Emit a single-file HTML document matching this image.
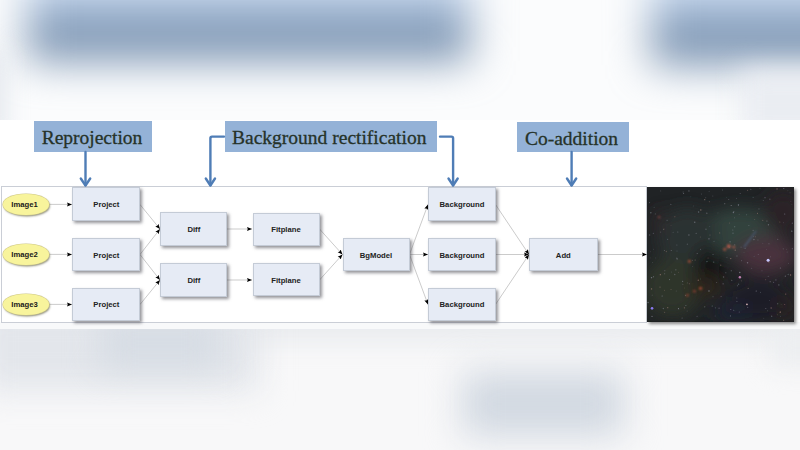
<!DOCTYPE html>
<html><head><meta charset="utf-8">
<style>
html,body{margin:0;padding:0;}
body{width:800px;height:450px;overflow:hidden;position:relative;background:#fff;font-family:"Liberation Sans",sans-serif;}
.blur{position:absolute;overflow:hidden;}
.blob{position:absolute;}
.lbl{position:absolute;background:#94b2d7;color:#263228;font-family:"Liberation Serif",serif;font-size:19.5px;line-height:34px;text-align:center;white-space:nowrap;-webkit-text-stroke:0.3px #263228;}
.node{position:absolute;background:#e6ebf5;border:1px solid #c4cbd6;box-shadow:2px 2px 3px rgba(60,60,70,0.55);font-size:7.7px;padding-top:0.5px;font-weight:bold;color:#222;text-align:center;box-sizing:border-box;}
.ell{position:absolute;background:#f8f49c;border-radius:50%;box-shadow:0 0 0 0.6px #cfc98a,1px 1.5px 2px rgba(90,90,60,0.65);font-size:7.7px;text-indent:-2.5px;padding-top:0.5px;font-weight:bold;color:#1a1a1a;text-align:center;}
#frame{position:absolute;left:1px;top:186px;width:646px;height:136.5px;box-sizing:border-box;border:1.5px solid #caced6;background:#fff;}
</style></head>
<body>
<!-- top blurred area -->
<div class="blur" style="left:0;top:0;width:800px;height:120px;background:#fbfcfd;">
  <div class="blob" style="left:27px;top:-45px;width:443px;height:106px;background:linear-gradient(#e0ecfa 0%,#c4d6ee 38%,#8098b4 68%,#7891b0 100%);filter:blur(21px);"></div>
  <div class="blob" style="left:651px;top:-45px;width:220px;height:110px;background:linear-gradient(#e0ecfa 0%,#c4d6ee 38%,#8098b4 68%,#7891b0 100%);filter:blur(21px);"></div>
  <div class="blob" style="left:-40px;top:50px;width:45px;height:90px;background:#e2e6ec;filter:blur(12px);"></div>
  <div class="blob" style="left:740px;top:70px;width:100px;height:70px;background:#eaedf2;filter:blur(14px);"></div>
</div>
<!-- bottom blurred area -->
<div class="blur" style="left:0;top:328px;width:800px;height:122px;background:#f8f8f9;">
  <div class="blob" style="left:-40px;top:-30px;width:880px;height:45px;background:#eaecef;filter:blur(12px);"></div>
  <div class="blob" style="left:-20px;top:-25px;width:280px;height:88px;background:#e3e6eb;filter:blur(16px);"></div>
  <div class="blob" style="left:100px;top:-10px;width:120px;height:50px;background:#d6dce4;filter:blur(16px);"></div>
  <div class="blob" style="left:462px;top:44px;width:162px;height:64px;background:#d1d8e1;filter:blur(18px);"></div>
  <div class="blob" style="left:770px;top:0px;width:60px;height:40px;background:#eceef0;filter:blur(12px);"></div>
</div>
<!-- slide strip -->
<div style="position:absolute;left:0;top:120px;width:800px;height:208px;background:#fff;"></div>
<div style="position:absolute;left:0;top:322px;width:800px;height:6.5px;background:#f8f9fa;"></div>

<!-- labels -->
<div class="lbl" style="left:34px;top:121px;width:118px;height:31px;text-indent:-2px;">Reprojection</div>
<div class="lbl" style="left:224.5px;top:121px;width:212.5px;height:31px;text-indent:-3px;">Background rectification</div>
<div class="lbl" style="left:516.5px;top:121.5px;width:112px;height:30.5px;text-indent:-2px;">Co-addition</div>

<div id="frame"></div>

<!-- star image -->
<div style="position:absolute;left:647px;top:187.3px;width:147.4px;height:134.4px;background:#1a1c1e;box-shadow:2px 2px 3px rgba(0,0,0,0.45);overflow:hidden;">
<svg width="147.4" height="134.4" viewBox="0 0 146 134" preserveAspectRatio="none" style="position:absolute;left:0;top:0;">
<defs>
<filter id="bl4" x="-50%" y="-50%" width="200%" height="200%"><feGaussianBlur stdDeviation="8"/></filter>
<filter id="bl2" x="-50%" y="-50%" width="200%" height="200%"><feGaussianBlur stdDeviation="1.2"/></filter>
<filter id="bl05" x="-50%" y="-50%" width="200%" height="200%"><feGaussianBlur stdDeviation="0.4"/></filter>
</defs>
<rect width="146" height="134" fill="#202325"/>
<g filter="url(#bl4)">
<ellipse cx="92" cy="45" rx="40" ry="24" fill="#33423d"/>
<ellipse cx="40" cy="50" rx="30" ry="30" fill="#2b3230"/>
<ellipse cx="118" cy="68" rx="30" ry="18" fill="#4a323c"/>
<ellipse cx="25" cy="100" rx="30" ry="30" fill="#2e362c"/>
<ellipse cx="62" cy="80" rx="15" ry="20" fill="#121314"/>
<ellipse cx="110" cy="112" rx="32" ry="22" fill="#1f1e28"/>
<ellipse cx="85" cy="125" rx="20" ry="10" fill="#1a2230"/>
<ellipse cx="135" cy="25" rx="20" ry="22" fill="#2a2428"/>
<ellipse cx="12" cy="35" rx="5" ry="14" fill="#33262a"/>
<ellipse cx="58" cy="100" rx="18" ry="10" fill="#2e261f"/>
<ellipse cx="138" cy="120" rx="10" ry="14" fill="#2a2422"/>
</g>
<g opacity="0.75" filter="url(#bl05)"><circle cx="66.1" cy="74.9" r="0.60" fill="#a0a0b0" opacity="0.65"/><circle cx="85.6" cy="25.4" r="0.70" fill="#a0a0b0" opacity="0.71"/><circle cx="115.2" cy="13.4" r="0.55" fill="#9a9aa8" opacity="0.45"/><circle cx="117.6" cy="92.5" r="0.45" fill="#b08a80" opacity="0.89"/><circle cx="139.9" cy="87.3" r="0.70" fill="#8a9aa0" opacity="0.48"/><circle cx="3.2" cy="70.7" r="0.45" fill="#8c8c9a" opacity="0.50"/><circle cx="35.8" cy="5.0" r="0.60" fill="#7d8490" opacity="0.62"/><circle cx="122.3" cy="69.5" r="0.55" fill="#a0a0b0" opacity="0.40"/><circle cx="13.2" cy="87.4" r="0.60" fill="#b08a80" opacity="0.90"/><circle cx="122.0" cy="94.4" r="0.55" fill="#9a9aa8" opacity="0.66"/><circle cx="5.3" cy="75.3" r="0.45" fill="#a0a0b0" opacity="0.45"/><circle cx="42.9" cy="9.8" r="0.45" fill="#8a9aa0" opacity="0.40"/><circle cx="31.2" cy="121.2" r="0.60" fill="#a0a0b0" opacity="0.89"/><circle cx="58.2" cy="10.6" r="0.50" fill="#8a9aa0" opacity="0.53"/><circle cx="13.5" cy="44.9" r="0.60" fill="#8c8c9a" opacity="0.47"/><circle cx="102.8" cy="2.4" r="0.60" fill="#a0a0b0" opacity="0.49"/><circle cx="81.5" cy="60.1" r="0.50" fill="#8a9aa0" opacity="0.78"/><circle cx="61.4" cy="51.7" r="0.60" fill="#a0a0b0" opacity="0.90"/><circle cx="1.1" cy="115.1" r="0.70" fill="#7d8490" opacity="0.90"/><circle cx="3.8" cy="25.7" r="0.70" fill="#8a9aa0" opacity="0.69"/><circle cx="7.1" cy="20.3" r="0.60" fill="#7d8490" opacity="0.40"/><circle cx="88.9" cy="110.6" r="0.60" fill="#8c8c9a" opacity="0.44"/><circle cx="31.1" cy="85.0" r="0.45" fill="#b08a80" opacity="0.58"/><circle cx="90.6" cy="17.8" r="0.70" fill="#a0a0b0" opacity="0.82"/><circle cx="20.5" cy="52.0" r="0.50" fill="#7d8490" opacity="0.85"/><circle cx="118.8" cy="33.9" r="0.50" fill="#9a9aa8" opacity="0.77"/><circle cx="136.4" cy="26.9" r="0.60" fill="#a0a0b0" opacity="0.70"/><circle cx="61.7" cy="14.7" r="0.45" fill="#b08a80" opacity="0.88"/><circle cx="35.3" cy="94.0" r="0.55" fill="#a0a0b0" opacity="0.81"/><circle cx="86.9" cy="39.7" r="0.50" fill="#8a9aa0" opacity="0.89"/><circle cx="19.2" cy="64.3" r="0.70" fill="#b08a80" opacity="0.44"/><circle cx="31.6" cy="121.8" r="0.45" fill="#8c8c9a" opacity="0.53"/><circle cx="65.2" cy="9.0" r="0.50" fill="#7d8490" opacity="0.58"/><circle cx="83.4" cy="18.4" r="0.55" fill="#9a9aa8" opacity="0.85"/><circle cx="142.2" cy="87.7" r="0.70" fill="#b08a80" opacity="0.87"/><circle cx="85.9" cy="122.9" r="0.60" fill="#7d8490" opacity="0.75"/><circle cx="139.6" cy="3.8" r="0.45" fill="#a0a0b0" opacity="0.43"/><circle cx="45.8" cy="19.0" r="0.45" fill="#8c8c9a" opacity="0.63"/><circle cx="54.0" cy="6.9" r="0.50" fill="#7d8490" opacity="0.58"/><circle cx="99.7" cy="119.9" r="0.60" fill="#8c8c9a" opacity="0.83"/><circle cx="83.5" cy="83.5" r="0.60" fill="#a0a0b0" opacity="0.69"/><circle cx="88.7" cy="11.6" r="0.45" fill="#7d8490" opacity="0.84"/><circle cx="105.9" cy="52.3" r="0.70" fill="#a0a0b0" opacity="0.62"/><circle cx="121.7" cy="12.1" r="0.70" fill="#8c8c9a" opacity="0.56"/><circle cx="13.6" cy="3.9" r="0.45" fill="#a0a0b0" opacity="0.79"/><circle cx="96.1" cy="65.2" r="0.45" fill="#7d8490" opacity="0.55"/><circle cx="98.7" cy="27.7" r="0.50" fill="#7d8490" opacity="0.73"/><circle cx="64.6" cy="118.7" r="0.55" fill="#a0a0b0" opacity="0.73"/><circle cx="29.6" cy="57.9" r="0.50" fill="#9a9aa8" opacity="0.59"/><circle cx="85.0" cy="42.8" r="0.50" fill="#9a9aa8" opacity="0.65"/><circle cx="121.5" cy="113.0" r="0.45" fill="#7d8490" opacity="0.81"/><circle cx="17.2" cy="63.2" r="0.50" fill="#a0a0b0" opacity="0.59"/><circle cx="75.9" cy="89.7" r="0.70" fill="#a0a0b0" opacity="0.56"/><circle cx="120.3" cy="37.7" r="0.70" fill="#8c8c9a" opacity="0.74"/><circle cx="41.5" cy="47.8" r="0.70" fill="#8c8c9a" opacity="0.72"/><circle cx="59.3" cy="26.1" r="0.55" fill="#9a9aa8" opacity="0.79"/><circle cx="115.7" cy="130.9" r="0.45" fill="#a0a0b0" opacity="0.45"/><circle cx="78.1" cy="85.5" r="0.55" fill="#8c8c9a" opacity="0.74"/><circle cx="29.7" cy="63.7" r="0.50" fill="#8a9aa0" opacity="0.41"/><circle cx="69.0" cy="95.3" r="0.50" fill="#9a9aa8" opacity="0.54"/><circle cx="50.8" cy="93.0" r="0.70" fill="#b08a80" opacity="0.71"/><circle cx="109.9" cy="52.9" r="0.50" fill="#8c8c9a" opacity="0.61"/><circle cx="129.5" cy="52.2" r="0.60" fill="#a0a0b0" opacity="0.50"/><circle cx="128.8" cy="1.9" r="0.70" fill="#b08a80" opacity="0.73"/><circle cx="73.4" cy="109.2" r="0.55" fill="#a0a0b0" opacity="0.56"/><circle cx="142.5" cy="14.1" r="0.45" fill="#9a9aa8" opacity="0.52"/><circle cx="57.2" cy="12.6" r="0.55" fill="#b08a80" opacity="0.89"/><circle cx="135.2" cy="35.6" r="0.45" fill="#7d8490" opacity="0.65"/><circle cx="6.3" cy="46.2" r="0.60" fill="#7d8490" opacity="0.64"/><circle cx="5.1" cy="107.8" r="0.45" fill="#a0a0b0" opacity="0.80"/><circle cx="25.9" cy="45.2" r="0.50" fill="#a0a0b0" opacity="0.47"/><circle cx="75.4" cy="96.5" r="0.60" fill="#a0a0b0" opacity="0.69"/><circle cx="100.2" cy="101.0" r="0.60" fill="#b08a80" opacity="0.68"/><circle cx="120.7" cy="75.1" r="0.50" fill="#b08a80" opacity="0.66"/><circle cx="131.6" cy="34.9" r="0.60" fill="#b08a80" opacity="0.50"/><circle cx="123.5" cy="128.8" r="0.70" fill="#7d8490" opacity="0.69"/><circle cx="29.9" cy="71.7" r="0.70" fill="#8c8c9a" opacity="0.70"/><circle cx="5.0" cy="129.0" r="0.70" fill="#a0a0b0" opacity="0.67"/><circle cx="143.5" cy="17.1" r="0.45" fill="#8a9aa0" opacity="0.48"/><circle cx="135.0" cy="61.6" r="0.60" fill="#7d8490" opacity="0.52"/><circle cx="72.0" cy="45.8" r="0.60" fill="#b08a80" opacity="0.56"/><circle cx="28.6" cy="82.6" r="0.55" fill="#9a9aa8" opacity="0.75"/><circle cx="141.7" cy="5.7" r="0.50" fill="#9a9aa8" opacity="0.41"/><circle cx="41.9" cy="96.5" r="0.50" fill="#b08a80" opacity="0.65"/><circle cx="73.0" cy="77.9" r="0.70" fill="#b08a80" opacity="0.53"/><circle cx="29.5" cy="71.0" r="0.60" fill="#8c8c9a" opacity="0.59"/><circle cx="60.5" cy="70.9" r="0.50" fill="#b08a80" opacity="0.50"/><circle cx="91.9" cy="85.3" r="0.70" fill="#9a9aa8" opacity="0.83"/><circle cx="89.1" cy="114.1" r="0.50" fill="#8a9aa0" opacity="0.71"/><circle cx="51.1" cy="24.9" r="0.70" fill="#7d8490" opacity="0.85"/><circle cx="29.0" cy="103.7" r="0.50" fill="#8c8c9a" opacity="0.47"/><circle cx="35.5" cy="96.9" r="0.55" fill="#a0a0b0" opacity="0.45"/><circle cx="120.8" cy="56.7" r="0.50" fill="#9a9aa8" opacity="0.60"/><circle cx="99.7" cy="3.3" r="0.50" fill="#b08a80" opacity="0.74"/><circle cx="132.2" cy="128.8" r="0.45" fill="#8a9aa0" opacity="0.65"/><circle cx="110.2" cy="67.4" r="0.50" fill="#8c8c9a" opacity="0.64"/><circle cx="4.5" cy="101.6" r="0.70" fill="#b08a80" opacity="0.85"/><circle cx="70.3" cy="26.0" r="0.45" fill="#9a9aa8" opacity="0.49"/><circle cx="23.8" cy="38.4" r="0.45" fill="#b08a80" opacity="0.43"/><circle cx="138.0" cy="62.0" r="0.45" fill="#7d8490" opacity="0.60"/><circle cx="62.4" cy="47.8" r="0.50" fill="#b08a80" opacity="0.59"/><circle cx="92.3" cy="6.4" r="0.50" fill="#9a9aa8" opacity="0.60"/><circle cx="52.8" cy="49.9" r="0.50" fill="#b08a80" opacity="0.48"/><circle cx="74.8" cy="3.0" r="0.45" fill="#8a9aa0" opacity="0.84"/><circle cx="131.9" cy="125.0" r="0.70" fill="#b08a80" opacity="0.50"/><circle cx="85.2" cy="46.0" r="0.55" fill="#7d8490" opacity="0.86"/><circle cx="108.2" cy="103.7" r="0.60" fill="#9a9aa8" opacity="0.85"/><circle cx="127.7" cy="92.7" r="0.60" fill="#9a9aa8" opacity="0.60"/><circle cx="105.1" cy="10.3" r="0.55" fill="#7d8490" opacity="0.63"/><circle cx="2.5" cy="47.9" r="0.70" fill="#8c8c9a" opacity="0.52"/><circle cx="137.0" cy="88.9" r="0.55" fill="#9a9aa8" opacity="0.73"/><circle cx="83.0" cy="71.4" r="0.60" fill="#b08a80" opacity="0.90"/><circle cx="93.5" cy="93.6" r="0.60" fill="#b08a80" opacity="0.41"/><circle cx="89.6" cy="98.5" r="0.55" fill="#a0a0b0" opacity="0.60"/><circle cx="8.3" cy="26.8" r="0.60" fill="#8c8c9a" opacity="0.45"/><circle cx="37.1" cy="120.5" r="0.70" fill="#b08a80" opacity="0.65"/><circle cx="140.3" cy="76.0" r="0.45" fill="#8a9aa0" opacity="0.62"/><circle cx="93.8" cy="73.5" r="0.45" fill="#a0a0b0" opacity="0.87"/><circle cx="24.0" cy="63.3" r="0.50" fill="#a0a0b0" opacity="0.67"/><circle cx="86.9" cy="57.7" r="0.60" fill="#a0a0b0" opacity="0.54"/><circle cx="58.4" cy="42.2" r="0.70" fill="#7d8490" opacity="0.64"/><circle cx="39.8" cy="123.7" r="0.55" fill="#8c8c9a" opacity="0.41"/><circle cx="36.3" cy="6.6" r="0.50" fill="#a0a0b0" opacity="0.78"/><circle cx="57.2" cy="119.5" r="0.60" fill="#8c8c9a" opacity="0.69"/><circle cx="105.1" cy="43.1" r="0.50" fill="#a0a0b0" opacity="0.76"/><circle cx="37.1" cy="100.7" r="0.45" fill="#b08a80" opacity="0.45"/><circle cx="117.7" cy="121.1" r="0.50" fill="#9a9aa8" opacity="0.70"/><circle cx="17.6" cy="83.4" r="0.60" fill="#8c8c9a" opacity="0.50"/><circle cx="8.5" cy="70.7" r="0.45" fill="#7d8490" opacity="0.62"/><circle cx="97.2" cy="61.1" r="0.55" fill="#8a9aa0" opacity="0.69"/><circle cx="61.4" cy="103.7" r="0.70" fill="#9a9aa8" opacity="0.88"/><circle cx="106.7" cy="32.5" r="0.45" fill="#b08a80" opacity="0.85"/><circle cx="113.9" cy="83.5" r="0.55" fill="#7d8490" opacity="0.54"/><circle cx="99.6" cy="75.6" r="0.70" fill="#9a9aa8" opacity="0.72"/><circle cx="109.5" cy="26.1" r="0.50" fill="#b08a80" opacity="0.89"/><circle cx="132.9" cy="117.0" r="0.45" fill="#8a9aa0" opacity="0.43"/><circle cx="40.0" cy="57.1" r="0.70" fill="#8c8c9a" opacity="0.45"/><circle cx="79.0" cy="10.6" r="0.45" fill="#8a9aa0" opacity="0.48"/><circle cx="34.8" cy="130.6" r="0.60" fill="#a0a0b0" opacity="0.58"/><circle cx="49.7" cy="66.3" r="0.50" fill="#8c8c9a" opacity="0.80"/><circle cx="65.4" cy="109.5" r="0.50" fill="#a0a0b0" opacity="0.61"/><circle cx="38.2" cy="107.9" r="0.55" fill="#9a9aa8" opacity="0.73"/><circle cx="143.4" cy="44.0" r="0.70" fill="#8a9aa0" opacity="0.81"/><circle cx="27.5" cy="87.3" r="0.70" fill="#8c8c9a" opacity="0.63"/><circle cx="47.7" cy="72.8" r="0.60" fill="#b08a80" opacity="0.68"/><circle cx="118.4" cy="62.2" r="0.45" fill="#8c8c9a" opacity="0.56"/><circle cx="132.1" cy="80.7" r="0.55" fill="#a0a0b0" opacity="0.76"/><circle cx="100.9" cy="38.3" r="0.50" fill="#9a9aa8" opacity="0.58"/><circle cx="105.5" cy="49.4" r="0.45" fill="#7d8490" opacity="0.75"/><circle cx="83.0" cy="122.2" r="0.55" fill="#a0a0b0" opacity="0.67"/><circle cx="143.9" cy="61.5" r="0.50" fill="#a0a0b0" opacity="0.88"/><circle cx="106.1" cy="69.1" r="0.45" fill="#7d8490" opacity="0.81"/><circle cx="4.5" cy="90.4" r="0.70" fill="#a0a0b0" opacity="0.80"/><circle cx="107.4" cy="49.6" r="0.60" fill="#b08a80" opacity="0.48"/><circle cx="86.1" cy="24.4" r="0.45" fill="#a0a0b0" opacity="0.84"/><circle cx="41.5" cy="3.9" r="0.70" fill="#8c8c9a" opacity="0.67"/><circle cx="82.7" cy="128.6" r="0.60" fill="#8c8c9a" opacity="0.69"/><circle cx="45.0" cy="73.0" r="0.55" fill="#8c8c9a" opacity="0.54"/><circle cx="16.2" cy="42.4" r="0.45" fill="#8a9aa0" opacity="0.73"/><circle cx="15.0" cy="108.7" r="0.60" fill="#9a9aa8" opacity="0.76"/><circle cx="71.4" cy="120.8" r="0.55" fill="#a0a0b0" opacity="0.60"/><circle cx="49.6" cy="128.8" r="0.50" fill="#a0a0b0" opacity="0.64"/><circle cx="116.9" cy="10.6" r="0.70" fill="#8c8c9a" opacity="0.61"/><circle cx="120.0" cy="89.0" r="0.45" fill="#a0a0b0" opacity="0.82"/><circle cx="129.0" cy="127.4" r="0.45" fill="#b08a80" opacity="0.58"/><circle cx="2.5" cy="15.5" r="0.60" fill="#9a9aa8" opacity="0.52"/><circle cx="24.4" cy="84.8" r="0.50" fill="#7d8490" opacity="0.50"/><circle cx="62.2" cy="39.5" r="0.45" fill="#a0a0b0" opacity="0.55"/><circle cx="17.5" cy="86.5" r="0.50" fill="#8c8c9a" opacity="0.78"/><circle cx="3.5" cy="64.5" r="0.45" fill="#7d8490" opacity="0.45"/><circle cx="27.6" cy="29.7" r="0.50" fill="#b08a80" opacity="0.76"/><circle cx="86.6" cy="30.6" r="0.50" fill="#7d8490" opacity="0.60"/><circle cx="132.1" cy="124.7" r="0.70" fill="#b08a80" opacity="0.64"/><circle cx="38.5" cy="118.1" r="0.55" fill="#8a9aa0" opacity="0.67"/><circle cx="138.8" cy="64.7" r="0.50" fill="#a0a0b0" opacity="0.42"/><circle cx="137.4" cy="106.8" r="0.60" fill="#b08a80" opacity="0.80"/><circle cx="112.5" cy="105.0" r="0.45" fill="#8a9aa0" opacity="0.86"/><circle cx="129.5" cy="116.4" r="0.55" fill="#a0a0b0" opacity="0.80"/><circle cx="103.7" cy="81.0" r="0.50" fill="#a0a0b0" opacity="0.48"/><circle cx="47.3" cy="35.2" r="0.70" fill="#9a9aa8" opacity="0.72"/><circle cx="144.0" cy="36.2" r="0.70" fill="#8c8c9a" opacity="0.48"/><circle cx="111.9" cy="1.2" r="0.50" fill="#9a9aa8" opacity="0.44"/><circle cx="39.9" cy="95.6" r="0.45" fill="#a0a0b0" opacity="0.75"/><circle cx="12.9" cy="99.8" r="0.70" fill="#b08a80" opacity="0.55"/><circle cx="114.7" cy="56.0" r="0.45" fill="#a0a0b0" opacity="0.50"/><circle cx="79.2" cy="70.4" r="0.50" fill="#7d8490" opacity="0.56"/><circle cx="59.4" cy="74.4" r="0.60" fill="#8a9aa0" opacity="0.76"/><circle cx="52.8" cy="91.7" r="0.45" fill="#8a9aa0" opacity="0.60"/><circle cx="67.5" cy="128.6" r="0.45" fill="#8a9aa0" opacity="0.62"/><circle cx="125.4" cy="95.0" r="0.60" fill="#9a9aa8" opacity="0.55"/><circle cx="17.3" cy="102.9" r="0.50" fill="#b08a80" opacity="0.48"/><circle cx="91.4" cy="124.7" r="0.55" fill="#7d8490" opacity="0.78"/><circle cx="81.0" cy="12.5" r="0.50" fill="#9a9aa8" opacity="0.59"/><circle cx="16.8" cy="41.9" r="0.55" fill="#b08a80" opacity="0.63"/><circle cx="93.2" cy="60.0" r="0.60" fill="#8c8c9a" opacity="0.45"/><circle cx="90.5" cy="18.3" r="0.50" fill="#9a9aa8" opacity="0.50"/><circle cx="6.3" cy="62.1" r="0.45" fill="#8c8c9a" opacity="0.51"/><circle cx="23.6" cy="17.4" r="0.60" fill="#8c8c9a" opacity="0.57"/><circle cx="119.5" cy="123.4" r="0.50" fill="#8a9aa0" opacity="0.50"/><circle cx="22.3" cy="92.3" r="0.60" fill="#7d8490" opacity="0.86"/><circle cx="90.7" cy="97.0" r="0.70" fill="#8a9aa0" opacity="0.56"/><circle cx="114.6" cy="33.3" r="0.70" fill="#b08a80" opacity="0.41"/><circle cx="48.7" cy="46.2" r="0.60" fill="#8c8c9a" opacity="0.68"/><circle cx="30.5" cy="44.9" r="0.55" fill="#8c8c9a" opacity="0.71"/><circle cx="23.8" cy="102.2" r="0.55" fill="#b08a80" opacity="0.52"/><circle cx="89.1" cy="68.8" r="0.70" fill="#8a9aa0" opacity="0.50"/><circle cx="135.4" cy="132.8" r="0.50" fill="#b08a80" opacity="0.87"/><circle cx="91.3" cy="27.1" r="0.45" fill="#9a9aa8" opacity="0.52"/><circle cx="84.0" cy="93.0" r="0.55" fill="#8c8c9a" opacity="0.86"/><circle cx="53.0" cy="62.1" r="0.45" fill="#a0a0b0" opacity="0.89"/><circle cx="20.5" cy="120.3" r="0.70" fill="#b08a80" opacity="0.68"/><circle cx="81.7" cy="35.9" r="0.55" fill="#b08a80" opacity="0.47"/><circle cx="135.5" cy="1.5" r="0.55" fill="#9a9aa8" opacity="0.78"/><circle cx="53.3" cy="22.9" r="0.70" fill="#b08a80" opacity="0.81"/><circle cx="66.4" cy="54.2" r="0.50" fill="#7d8490" opacity="0.78"/><circle cx="123.0" cy="120.7" r="0.70" fill="#b08a80" opacity="0.72"/><circle cx="110.9" cy="21.9" r="0.60" fill="#a0a0b0" opacity="0.42"/><circle cx="77.0" cy="16.6" r="0.60" fill="#9a9aa8" opacity="0.57"/><circle cx="19.9" cy="33.2" r="0.55" fill="#8c8c9a" opacity="0.72"/><circle cx="6.5" cy="89.6" r="0.50" fill="#a0a0b0" opacity="0.88"/><circle cx="87.4" cy="63.0" r="0.60" fill="#b08a80" opacity="0.86"/><circle cx="82.3" cy="54.7" r="0.55" fill="#a0a0b0" opacity="0.84"/><circle cx="67.7" cy="120.5" r="0.60" fill="#a0a0b0" opacity="0.46"/><circle cx="17.5" cy="124.9" r="0.55" fill="#b08a80" opacity="0.66"/><circle cx="61.5" cy="4.2" r="0.45" fill="#7d8490" opacity="0.76"/><circle cx="130.6" cy="97.6" r="0.70" fill="#7d8490" opacity="0.78"/><circle cx="44.9" cy="79.3" r="0.45" fill="#9a9aa8" opacity="0.46"/><circle cx="65.4" cy="67.3" r="0.60" fill="#8c8c9a" opacity="0.64"/><circle cx="16.2" cy="121.1" r="0.70" fill="#7d8490" opacity="0.73"/><circle cx="136.4" cy="117.1" r="0.55" fill="#b08a80" opacity="0.61"/></g>
<g filter="url(#bl2)">
<circle cx="81" cy="59" r="2" fill="#b05848"/>
<circle cx="77" cy="62" r="1.5" fill="#a05040"/>
<circle cx="86" cy="60" r="1.3" fill="#a05848"/>
<circle cx="42" cy="74" r="1.5" fill="#a05038"/>
<circle cx="53" cy="101" r="1.6" fill="#a04830"/>
<circle cx="40" cy="108" r="1.3" fill="#904030"/>
<circle cx="47" cy="104" r="1.3" fill="#904030"/>
<circle cx="12" cy="30" r="1.2" fill="#804040"/>
<path d="M108,44 L96,60" stroke="#4a5870" stroke-width="1.5" fill="none"/>
</g>
<g filter="url(#bl05)">
<circle cx="120" cy="73" r="1.5" fill="#c8c8ff"/>
<circle cx="5" cy="121" r="1.3" fill="#8a7aef"/>
<circle cx="92" cy="90" r="1.2" fill="#c080b0"/>
<circle cx="99" cy="117" r="0.9" fill="#d0b0b0"/>
</g>
</svg>
</div>

<svg style="position:absolute;left:0;top:0;" width="800" height="450">
  <defs>
    <marker id="ah" markerWidth="6" markerHeight="6" refX="5" refY="3" orient="auto" markerUnits="userSpaceOnUse">
      <path d="M0,1 L5,3 L0,5 L0.8,3 z" fill="#000"/>
    </marker>
  </defs>
  <g stroke="#4f7db6" stroke-width="2.4" fill="none" stroke-linejoin="round" stroke-linecap="round">
    <path d="M85.5,152 L85.5,185"/>
    <path d="M80.8,178.5 L85.5,185.5 L90.2,178.5"/>
    <path d="M224,136.6 L212,136.6 Q210.4,136.6 210.4,138.2 L210.4,185"/>
    <path d="M205.8,178.5 L210.4,185.5 L215,178.5"/>
    <path d="M440,136.6 L451.5,136.6 Q453.1,136.6 453.1,138.2 L453.1,185"/>
    <path d="M448.5,178.5 L453.1,185.5 L457.7,178.5"/>
    <path d="M571.6,152 L571.6,185"/>
    <path d="M567,178.5 L571.6,185.5 L576.2,178.5"/>
  </g>
  <g stroke="#a8a8a8" stroke-width="0.6" fill="none" marker-end="url(#ah)">
    <path d="M49,204.4 L72,204.4"/>
    <path d="M49,254.4 L72,254.4"/>
    <path d="M49,304.4 L72,304.4"/>
    <path d="M140,204.5 L160,229"/>
    <path d="M140,254.5 L160,229"/>
    <path d="M140,254.5 L160,280"/>
    <path d="M140,304.5 L160,280"/>
    <path d="M227,229 L252,229"/>
    <path d="M227,280 L252,280"/>
    <path d="M319.5,229 L342.5,254.5"/>
    <path d="M319.5,280 L342.5,254.5"/>
    <path d="M409.5,254.5 L428,204.5"/>
    <path d="M409.5,254.5 L428,254.5"/>
    <path d="M409.5,254.5 L428,304.5"/>
    <path d="M495.5,204.5 L529,254.5"/>
    <path d="M495.5,254.5 L529,254.5"/>
    <path d="M495.5,304.5 L529,254.5"/>
    <path d="M597.5,254.5 L647,254.5"/>
  </g>
</svg>

<div class="ell" style="left:3px;top:194.4px;width:45.5px;height:20px;line-height:20px;">Image1</div>
<div class="ell" style="left:3px;top:244.4px;width:45.5px;height:20px;line-height:20px;">Image2</div>
<div class="ell" style="left:3px;top:294.4px;width:45.5px;height:20px;line-height:20px;">Image3</div>

<div class="node" style="left:72.4px;top:187.3px;width:68px;height:33.7px;line-height:32px;">Project</div>
<div class="node" style="left:72.4px;top:238px;width:68px;height:33px;line-height:31px;">Project</div>
<div class="node" style="left:72.4px;top:287.7px;width:68px;height:33.3px;line-height:31px;">Project</div>

<div class="node" style="left:160.3px;top:212.3px;width:67px;height:34px;line-height:32px;">Diff</div>
<div class="node" style="left:160.3px;top:263.3px;width:67px;height:33.4px;line-height:32px;">Diff</div>

<div class="node" style="left:252.5px;top:212.5px;width:67px;height:33.8px;line-height:32px;">Fitplane</div>
<div class="node" style="left:252.5px;top:263.3px;width:67px;height:33px;line-height:32px;">Fitplane</div>

<div class="node" style="left:342.5px;top:238.3px;width:67px;height:33px;line-height:31px;">BgModel</div>

<div class="node" style="left:428.3px;top:187.3px;width:67.4px;height:33.7px;line-height:32px;">Background</div>
<div class="node" style="left:428.3px;top:238.3px;width:67.4px;height:32.7px;line-height:31px;">Background</div>
<div class="node" style="left:428.3px;top:287.7px;width:67.4px;height:33.3px;line-height:31px;">Background</div>

<div class="node" style="left:529px;top:238.3px;width:68.7px;height:32.7px;line-height:31px;">Add</div>

</body></html>
